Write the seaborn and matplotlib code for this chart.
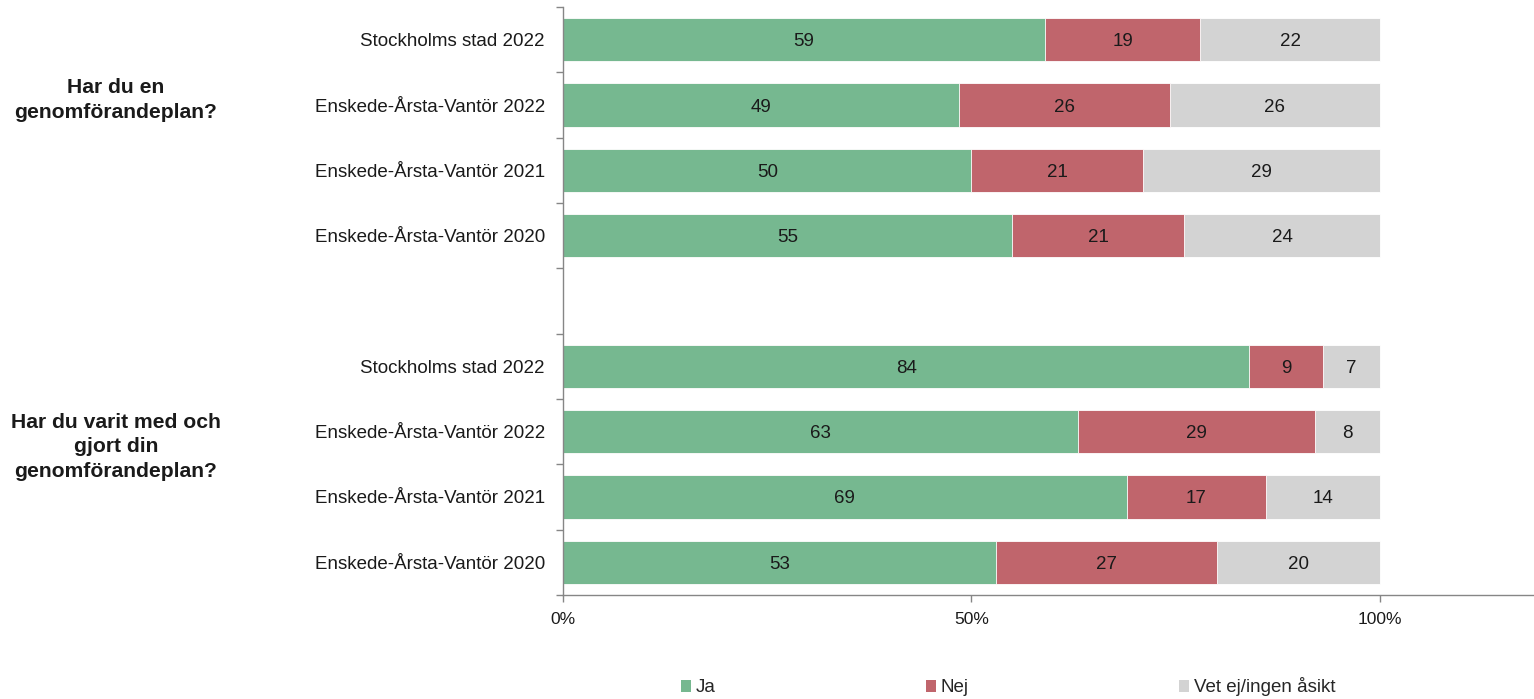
import numpy as np
import pandas as pd
import matplotlib
matplotlib.use("Agg")
import matplotlib.pyplot as plt
import seaborn as sns
from matplotlib.patches import Patch

# ---- data ----
categories = ["Stockholms stad 2022", "Enskede-Årsta-Vantör 2022",
              "Enskede-Årsta-Vantör 2021", "Enskede-Årsta-Vantör 2020"]
questions = ["Har du en\ngenomförandeplan?",
             "Har du varit med och\ngjort din\ngenomförandeplan?"]
series_names = ["Ja", "Nej", "Vet ej/ingen åsikt"]
ja_q1 = [59, 49, 50, 55]
nej_q1 = [19, 26, 21, 21]
vet_q1 = [22, 26, 29, 24]
ja_q2 = [84, 63, 69, 53]
nej_q2 = [9, 29, 17, 27]
vet_q2 = [7, 8, 14, 20]
x_ticks = [0, 50, 100]
x_ticklabels = ["0%", "50%", "100%"]

colors = ["#76B890", "#C0656C", "#D3D3D3"]
spine_c = "#868686"
text_c = "#1a1a1a"

sns.set_style("white")
plt.rcParams["font.family"] = ["Liberation Sans", "DejaVu Sans"]

# build table
recs = []
order = []
groups = [(ja_q1, nej_q1, vet_q1), (ja_q2, nej_q2, vet_q2)]
for gi, (ja, nej, vet) in enumerate(groups):
    for ci, cat in enumerate(categories):
        key = f"g{gi}_{ci}"
        tot = ja[ci] + nej[ci] + vet[ci]
        recs.append(dict(key=key, label=cat, ja=ja[ci], nej=nej[ci], vet=vet[ci],
                         c1=ja[ci] / tot * 100,
                         c2=(ja[ci] + nej[ci]) / tot * 100,
                         c3=100.0))
        order.append(key)
    if gi == 0:
        order.append("gap")
df = pd.DataFrame(recs)

fig = plt.figure(figsize=(15.34, 6.99), dpi=100)
ax = fig.add_axes([563 / 1534, 1 - 595 / 699, 971 / 1534, 588 / 699])

bw = 0.66
for col, c in zip(["c3", "c2", "c1"], colors[::-1]):
    sns.barplot(data=df, x=col, y="key", order=order, color=c, saturation=1,
                width=bw, errorbar=None, edgecolor="white", linewidth=0.6,
                orient="h", ax=ax)

pos = {k: i for i, k in enumerate(order)}
for _, r in df.iterrows():
    y = pos[r.key]
    starts = [0, r.c1, r.c2]
    ends = [r.c1, r.c2, r.c3]
    for s, e, v in zip(starts, ends, [r.ja, r.nej, r.vet]):
        ax.text((s + e) / 2, y, f"{v}", ha="center", va="center_baseline",
                fontsize=13.5, color=text_c)

ax.set_xlim(0, 118.85)
ax.set_ylim(8.5, -0.5)
ax.set_xticks(x_ticks)
ax.set_xticklabels(x_ticklabels, fontsize=12.5, color=text_c)
ax.set_yticks(np.arange(-0.5, 9.0, 1.0))
ax.set_yticklabels([""] * 10)
lab_pos = [pos[k] for k in df["key"]]
ax.set_yticks(lab_pos, minor=True)
ax.set_yticklabels(df["label"].tolist(), minor=True, fontsize=13.5, color=text_c)
ax.tick_params(axis="y", which="major", length=5, width=1, color=spine_c, direction="out", left=True)
ax.tick_params(axis="y", which="minor", length=0, pad=13)
ax.tick_params(axis="x", which="major", length=5, width=1, color=spine_c, direction="out", pad=7, bottom=True)
ax.set_xlabel("")
ax.set_ylabel("")
for s in ["top", "right"]:
    ax.spines[s].set_visible(False)
for s in ["left", "bottom"]:
    ax.spines[s].set_color(spine_c)
    ax.spines[s].set_linewidth(1)

# group labels
fig.text(116 / 1534, 1 - 100 / 699, questions[0], ha="center", va="center",
         fontsize=15.2, fontweight="bold", color=text_c, linespacing=1.35)
fig.text(116 / 1534, 1 - 447 / 699, questions[1], ha="center", va="center",
         fontsize=15.2, fontweight="bold", color=text_c, linespacing=1.35)

handles = [Patch(facecolor=c, edgecolor="none", label=n) for c, n in zip(colors, series_names)]
fig.legend(handles=handles, loc="center", bbox_to_anchor=(1008 / 1534, 1 - 687 / 699),
           ncol=3, frameon=False, fontsize=13.5, handlelength=0.55, handleheight=0.55,
           handletextpad=0.25, columnspacing=11.2)

fig.savefig("out.png", dpi=100)
